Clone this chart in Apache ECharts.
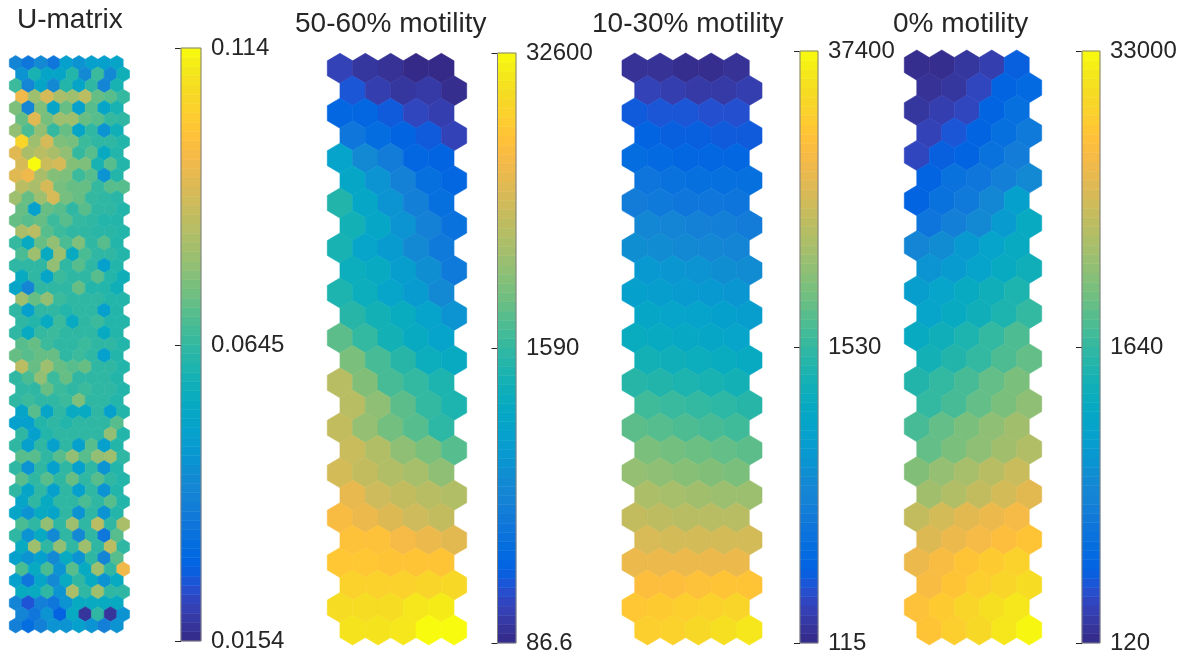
<!DOCTYPE html>
<html>
<head>
<meta charset="utf-8">
<script src="https://cdn.jsdelivr.net/npm/echarts@6/dist/echarts.min.js"></script>
<style>
html,body{margin:0;padding:0;background:#fff;}
#main{width:1183px;height:655px;}
</style>
</head>
<body>
<div id="main"></div>
<script>
// ---------------- DATA ----------------
var panelTitles = ['U-matrix', '50-60% motility', '10-30% motility', '0% motility'];

// colorbar tick labels (bottom, middle, top)
var umatTicks = ['0.0154', '0.0645', '0.114'];
var motil5060Ticks = ['86.6', '1590', '32600'];
var motil1030Ticks = ['115', '1530', '37400'];
var motil0Ticks = ['120', '1640', '33000'];

// U-matrix range (linear)
var umatRange = [0.0154, 0.0645, 0.114];

// U-matrix values: 51 rows x 9 columns (top to bottom)
var umatValues = [
  [0.040,0.035,0.042,0.035,0.050,0.045,0.050,0.050,0.052],
  [0.045,0.060,0.052,0.052,0.062,0.042,0.066,0.042,0.058],
  [0.066,0.040,0.052,0.042,0.062,0.052,0.064,0.040,0.060],
  [0.095,0.080,0.090,0.082,0.080,0.085,0.072,0.070,0.065],
  [0.075,0.040,0.075,0.052,0.072,0.050,0.070,0.052,0.060],
  [0.072,0.092,0.074,0.080,0.080,0.072,0.070,0.065,0.064],
  [0.078,0.068,0.078,0.065,0.072,0.052,0.064,0.045,0.058],
  [0.105,0.080,0.090,0.075,0.074,0.066,0.064,0.064,0.062],
  [0.092,0.082,0.085,0.082,0.078,0.065,0.070,0.055,0.062],
  [0.090,0.114,0.088,0.090,0.076,0.075,0.060,0.070,0.062],
  [0.092,0.095,0.082,0.076,0.075,0.066,0.070,0.045,0.062],
  [0.085,0.082,0.090,0.074,0.072,0.072,0.065,0.070,0.070],
  [0.080,0.072,0.080,0.090,0.074,0.072,0.065,0.064,0.063],
  [0.072,0.050,0.072,0.070,0.064,0.070,0.064,0.064,0.062],
  [0.072,0.070,0.072,0.066,0.070,0.065,0.064,0.062,0.062],
  [0.082,0.085,0.070,0.066,0.064,0.064,0.063,0.063,0.062],
  [0.065,0.055,0.072,0.078,0.068,0.075,0.064,0.070,0.062],
  [0.068,0.080,0.055,0.080,0.055,0.068,0.064,0.064,0.062],
  [0.064,0.064,0.064,0.078,0.064,0.070,0.064,0.050,0.062],
  [0.055,0.064,0.052,0.066,0.064,0.064,0.070,0.062,0.058],
  [0.052,0.040,0.064,0.064,0.064,0.072,0.062,0.062,0.058],
  [0.080,0.072,0.078,0.066,0.064,0.064,0.064,0.062,0.062],
  [0.064,0.050,0.064,0.064,0.062,0.064,0.064,0.050,0.062],
  [0.064,0.062,0.055,0.066,0.055,0.064,0.066,0.062,0.062],
  [0.064,0.055,0.065,0.066,0.064,0.064,0.064,0.055,0.062],
  [0.070,0.072,0.066,0.064,0.064,0.066,0.064,0.064,0.062],
  [0.072,0.070,0.072,0.072,0.064,0.066,0.064,0.050,0.062],
  [0.085,0.072,0.080,0.072,0.070,0.072,0.064,0.064,0.062],
  [0.064,0.068,0.078,0.066,0.072,0.064,0.064,0.064,0.062],
  [0.064,0.064,0.072,0.066,0.064,0.066,0.064,0.064,0.062],
  [0.064,0.066,0.064,0.064,0.066,0.075,0.064,0.064,0.062],
  [0.052,0.070,0.052,0.064,0.055,0.055,0.064,0.050,0.062],
  [0.050,0.050,0.062,0.064,0.062,0.064,0.064,0.064,0.070],
  [0.064,0.050,0.062,0.064,0.064,0.064,0.064,0.078,0.062],
  [0.064,0.050,0.064,0.050,0.064,0.050,0.070,0.050,0.062],
  [0.070,0.070,0.064,0.070,0.078,0.070,0.078,0.080,0.064],
  [0.064,0.045,0.064,0.050,0.064,0.050,0.064,0.045,0.062],
  [0.070,0.064,0.070,0.064,0.072,0.064,0.070,0.064,0.062],
  [0.064,0.052,0.064,0.050,0.064,0.050,0.064,0.045,0.062],
  [0.052,0.064,0.055,0.064,0.064,0.068,0.064,0.070,0.062],
  [0.052,0.045,0.055,0.052,0.064,0.045,0.064,0.045,0.062],
  [0.068,0.064,0.078,0.064,0.080,0.064,0.085,0.064,0.082],
  [0.064,0.045,0.055,0.042,0.064,0.042,0.064,0.035,0.070],
  [0.055,0.080,0.064,0.078,0.064,0.080,0.064,0.085,0.064],
  [0.050,0.045,0.050,0.042,0.055,0.045,0.064,0.040,0.070],
  [0.068,0.055,0.068,0.045,0.070,0.055,0.080,0.064,0.095],
  [0.050,0.035,0.052,0.042,0.055,0.064,0.055,0.045,0.055],
  [0.055,0.055,0.064,0.045,0.082,0.064,0.080,0.064,0.064],
  [0.040,0.025,0.038,0.035,0.045,0.055,0.055,0.055,0.055],
  [0.040,0.035,0.045,0.028,0.055,0.018,0.064,0.018,0.045],
  [0.038,0.032,0.038,0.045,0.045,0.050,0.045,0.038,0.045]
];

// Component planes: 26 rows x 5 columns, values as position on the colour scale (0 = bottom label, 1 = top label)
var motil5060 = [
  [0.06,0.03,0.02,0.00,0.00],
  [0.10,0.05,0.03,0.04,0.01],
  [0.14,0.14,0.11,0.07,0.05],
  [0.20,0.16,0.13,0.11,0.06],
  [0.36,0.27,0.22,0.14,0.13],
  [0.38,0.30,0.24,0.17,0.14],
  [0.47,0.38,0.30,0.23,0.17],
  [0.44,0.38,0.30,0.24,0.18],
  [0.45,0.37,0.33,0.27,0.21],
  [0.42,0.40,0.34,0.29,0.21],
  [0.46,0.42,0.37,0.33,0.27],
  [0.48,0.44,0.41,0.36,0.30],
  [0.56,0.50,0.44,0.40,0.36],
  [0.60,0.53,0.48,0.42,0.40],
  [0.70,0.61,0.53,0.50,0.46],
  [0.70,0.63,0.56,0.50,0.46],
  [0.72,0.64,0.59,0.55,0.49],
  [0.73,0.69,0.63,0.60,0.55],
  [0.75,0.72,0.69,0.67,0.63],
  [0.79,0.74,0.72,0.70,0.69],
  [0.83,0.80,0.77,0.74,0.72],
  [0.85,0.85,0.82,0.80,0.78],
  [0.87,0.87,0.86,0.86,0.86],
  [0.90,0.90,0.90,0.91,0.92],
  [0.93,0.93,0.93,0.96,0.97],
  [0.95,0.95,0.96,1.00,1.00]
];
var motil1030 = [
  [0.02,0.02,0.01,0.01,0.02],
  [0.06,0.05,0.04,0.04,0.05],
  [0.11,0.10,0.10,0.09,0.09],
  [0.13,0.12,0.12,0.11,0.11],
  [0.16,0.15,0.14,0.14,0.14],
  [0.19,0.18,0.17,0.17,0.17],
  [0.22,0.21,0.20,0.20,0.19],
  [0.26,0.25,0.24,0.23,0.22],
  [0.29,0.28,0.27,0.26,0.25],
  [0.32,0.31,0.30,0.29,0.28],
  [0.35,0.34,0.33,0.32,0.31],
  [0.38,0.37,0.36,0.35,0.34],
  [0.41,0.40,0.39,0.38,0.37],
  [0.44,0.43,0.42,0.41,0.40],
  [0.48,0.47,0.46,0.45,0.44],
  [0.52,0.51,0.50,0.49,0.48],
  [0.56,0.55,0.54,0.53,0.52],
  [0.60,0.59,0.58,0.57,0.56],
  [0.64,0.63,0.62,0.61,0.60],
  [0.68,0.67,0.66,0.65,0.65],
  [0.72,0.71,0.70,0.70,0.70],
  [0.76,0.75,0.75,0.75,0.75],
  [0.80,0.80,0.80,0.80,0.80],
  [0.84,0.84,0.85,0.86,0.86],
  [0.87,0.88,0.89,0.90,0.91],
  [0.89,0.90,0.92,0.94,0.96]
];
var motil0 = [
  [0.01,0.01,0.03,0.05,0.12],
  [0.02,0.03,0.07,0.13,0.15],
  [0.03,0.05,0.07,0.13,0.17],
  [0.06,0.10,0.13,0.17,0.21],
  [0.07,0.12,0.13,0.18,0.22],
  [0.13,0.18,0.20,0.23,0.27],
  [0.13,0.18,0.21,0.26,0.35],
  [0.19,0.23,0.27,0.33,0.40],
  [0.25,0.28,0.32,0.36,0.40],
  [0.30,0.33,0.36,0.40,0.43],
  [0.34,0.37,0.40,0.43,0.46],
  [0.37,0.40,0.43,0.46,0.50],
  [0.40,0.43,0.46,0.50,0.54],
  [0.44,0.47,0.50,0.54,0.57],
  [0.47,0.50,0.53,0.57,0.60],
  [0.50,0.53,0.57,0.60,0.63],
  [0.53,0.57,0.60,0.63,0.66],
  [0.57,0.60,0.63,0.66,0.69],
  [0.61,0.64,0.67,0.70,0.73],
  [0.66,0.69,0.72,0.75,0.78],
  [0.72,0.75,0.78,0.80,0.82],
  [0.77,0.80,0.82,0.84,0.86],
  [0.80,0.83,0.86,0.88,0.90],
  [0.83,0.86,0.89,0.91,0.93],
  [0.85,0.88,0.91,0.94,0.96],
  [0.86,0.89,0.92,0.96,0.99]
];

// parula colormap (64 entries)
var parula = [
[0.2081,0.1663,0.5292],[0.2116,0.1898,0.5777],[0.2123,0.2138,0.6270],[0.2081,0.2386,0.6771],
[0.1959,0.2645,0.7279],[0.1707,0.2919,0.7792],[0.1253,0.3242,0.8303],[0.0591,0.3598,0.8683],
[0.0117,0.3875,0.8820],[0.0060,0.4086,0.8828],[0.0165,0.4266,0.8786],[0.0329,0.4430,0.8720],
[0.0498,0.4586,0.8641],[0.0629,0.4737,0.8554],[0.0723,0.4887,0.8467],[0.0779,0.5040,0.8384],
[0.0793,0.5200,0.8312],[0.0749,0.5375,0.8263],[0.0641,0.5570,0.8240],[0.0488,0.5772,0.8228],
[0.0343,0.5966,0.8199],[0.0265,0.6137,0.8135],[0.0239,0.6287,0.8038],[0.0231,0.6418,0.7913],
[0.0228,0.6535,0.7768],[0.0267,0.6642,0.7607],[0.0384,0.6743,0.7436],[0.0590,0.6838,0.7254],
[0.0843,0.6928,0.7062],[0.1133,0.7015,0.6859],[0.1453,0.7098,0.6646],[0.1801,0.7177,0.6424],
[0.2178,0.7250,0.6193],[0.2586,0.7317,0.5954],[0.3022,0.7376,0.5712],[0.3482,0.7424,0.5473],
[0.3953,0.7459,0.5244],[0.4420,0.7481,0.5033],[0.4871,0.7491,0.4840],[0.5300,0.7491,0.4661],
[0.5709,0.7485,0.4494],[0.6099,0.7473,0.4337],[0.6473,0.7456,0.4188],[0.6834,0.7435,0.4044],
[0.7184,0.7411,0.3905],[0.7525,0.7384,0.3768],[0.7858,0.7356,0.3633],[0.8185,0.7327,0.3498],
[0.8507,0.7299,0.3360],[0.8824,0.7274,0.3217],[0.9139,0.7258,0.3063],[0.9450,0.7261,0.2886],
[0.9739,0.7314,0.2666],[0.9938,0.7455,0.2403],[0.9990,0.7653,0.2164],[0.9955,0.7861,0.1967],
[0.9880,0.8066,0.1794],[0.9789,0.8271,0.1633],[0.9697,0.8481,0.1475],[0.9626,0.8705,0.1309],
[0.9589,0.8949,0.1132],[0.9598,0.9218,0.0948],[0.9661,0.9514,0.0755],[0.9763,0.9831,0.0538]
];

// ---------------- BUILD ----------------
var parulaColors = parula.map(function (c) {
  return 'rgb(' + Math.round(c[0] * 255) + ',' + Math.round(c[1] * 255) + ',' + Math.round(c[2] * 255) + ')';
});

var R = 1 / Math.sqrt(3);   // hex circumradius (unit column spacing)
var H = 1.5 * R;            // row spacing

var panels = [
  { vals: umatValues, ticks: umatTicks, range: umatRange,
    hexBox: { left: 9.3, top: 55.5, width: 120.2, height: 577.5 },
    cbBox: { left: 181, top: 48, width: 20, height: 593 },
    title: { x: 17, y: 20 } },
  { vals: motil5060, ticks: motil5060Ticks, range: [0, 0.5, 1],
    hexBox: { left: 327.3, top: 53.3, width: 139.4, height: 591.7 },
    cbBox: { left: 497.5, top: 53, width: 18.5, height: 594 },
    title: { x: 295, y: 24 } },
  { vals: motil1030, ticks: motil1030Ticks, range: [0, 0.5, 1],
    hexBox: { left: 622, top: 53, width: 140, height: 592 },
    cbBox: { left: 800, top: 51, width: 18, height: 595 },
    title: { x: 592, y: 24 } },
  { vals: motil0, ticks: motil0Ticks, range: [0, 0.5, 1],
    hexBox: { left: 904.3, top: 50, width: 137.4, height: 595 },
    cbBox: { left: 1082, top: 51, width: 18, height: 594 },
    title: { x: 893, y: 24 } }
];

var grids = [], xAxes = [], yAxes = [], series = [], visualMaps = [], graphics = [];
var labelFont = 'Liberation Sans, Arial, sans-serif';

panels.forEach(function (p, i) {
  var rows = p.vals.length, cols = p.vals[0].length;
  var lo = p.range[0], mid = p.range[1], hi = p.range[2];

  // hex grid
  grids.push(Object.assign({ show: false }, p.hexBox));
  xAxes.push({ type: 'value', gridIndex: grids.length - 1, min: -0.5, max: cols, show: false });
  yAxes.push({ type: 'value', gridIndex: grids.length - 1, inverse: true, min: -R, max: (rows - 1) * H + R, show: false });
  var hexAxis = grids.length - 1;

  var hexData = [];
  for (var r = 0; r < rows; r++) {
    for (var c = 0; c < cols; c++) hexData.push([c, r, p.vals[r][c]]);
  }
  series.push({
    type: 'custom', xAxisIndex: hexAxis, yAxisIndex: hexAxis, data: hexData, silent: true,
    renderItem: function (params, api) {
      var c = api.value(0), r = api.value(1);
      var cx = c + (r % 2 ? 0.5 : 0), cy = r * H;
      var pts = [
        [cx, cy - R], [cx + 0.5, cy - R / 2], [cx + 0.5, cy + R / 2],
        [cx, cy + R], [cx - 0.5, cy + R / 2], [cx - 0.5, cy - R / 2]
      ].map(function (q) { return api.coord(q); });
      var col = api.visual('color');
      return { type: 'polygon', shape: { points: pts }, style: { fill: col, stroke: col, lineWidth: 0.6 } };
    }
  });
  var hexSeriesIdx = series.length - 1;

  // colorbar grid
  grids.push(Object.assign({ show: false }, p.cbBox));
  var cbIdx = grids.length - 1;
  xAxes.push({ type: 'value', gridIndex: cbIdx, min: 0, max: 1, show: false });
  var tickVals = [lo, mid, hi];
  yAxes.push({
    type: 'value', gridIndex: cbIdx, min: lo, max: hi, position: 'right',
    axisLine: { show: false }, splitLine: { show: false },
    axisTick: { show: true, inside: true, length: 6, customValues: tickVals, lineStyle: { color: '#262626', width: 1 } },
    axisLabel: {
      show: true, margin: 10, customValues: tickVals, color: '#262626', fontSize: 24, fontFamily: labelFont,
      padding: [0, 0, 6, 0],
      formatter: (function (ticks, tv) {
        return function (v) {
          var best = 0, bd = Infinity;
          tv.forEach(function (t, k) { var d = Math.abs(t - v); if (d < bd) { bd = d; best = k; } });
          return ticks[best];
        };
      })(p.ticks, tickVals)
    }
  });
  var nSteps = 64, cbData = [];
  for (var s = 0; s < nSteps; s++) {
    var a = lo + (hi - lo) * s / nSteps, b = lo + (hi - lo) * (s + 1) / nSteps;
    cbData.push([a, b, (a + b) / 2]);
  }
  series.push({
    type: 'custom', xAxisIndex: cbIdx, yAxisIndex: cbIdx, data: cbData, silent: true,
    renderItem: function (params, api) {
      var p0 = api.coord([0, api.value(1)]), p1 = api.coord([1, api.value(0)]);
      var col = api.visual('color');
      return { type: 'rect', shape: { x: p0[0], y: p0[1], width: p1[0] - p0[0], height: p1[1] - p0[1] },
        style: { fill: col, stroke: col, lineWidth: 0.5 } };
    }
  });
  var cbSeriesIdx = series.length - 1;

  // colorbar frame
  series.push({
    type: 'custom', xAxisIndex: cbIdx, yAxisIndex: cbIdx, data: [[0]], silent: true, z: 5,
    renderItem: (function (lo, hi) {
      return function (params, api) {
        var p0 = api.coord([0, hi]), p1 = api.coord([1, lo]);
        return { type: 'rect', shape: { x: p0[0], y: p0[1], width: p1[0] - p0[0], height: p1[1] - p0[1] },
          style: { fill: 'none', stroke: '#808080', lineWidth: 1 } };
      };
    })(lo, hi)
  });

  visualMaps.push({
    type: 'continuous', show: false, min: lo, max: hi, dimension: 2,
    seriesIndex: [hexSeriesIdx, cbSeriesIdx],
    inRange: { color: parulaColors }
  });

  graphics.push({
    type: 'text', x: p.title.x, y: p.title.y,
    style: { text: panelTitles[i], fill: '#262626', font: '28px ' + labelFont, verticalAlign: 'middle', align: 'left' }
  });
});

var chart = echarts.init(document.getElementById('main'), null, { renderer: 'canvas' });
chart.setOption({
  backgroundColor: '#ffffff',
  animation: false,
  grid: grids,
  xAxis: xAxes,
  yAxis: yAxes,
  visualMap: visualMaps,
  series: series,
  graphic: graphics
});
</script>
</body>
</html>
